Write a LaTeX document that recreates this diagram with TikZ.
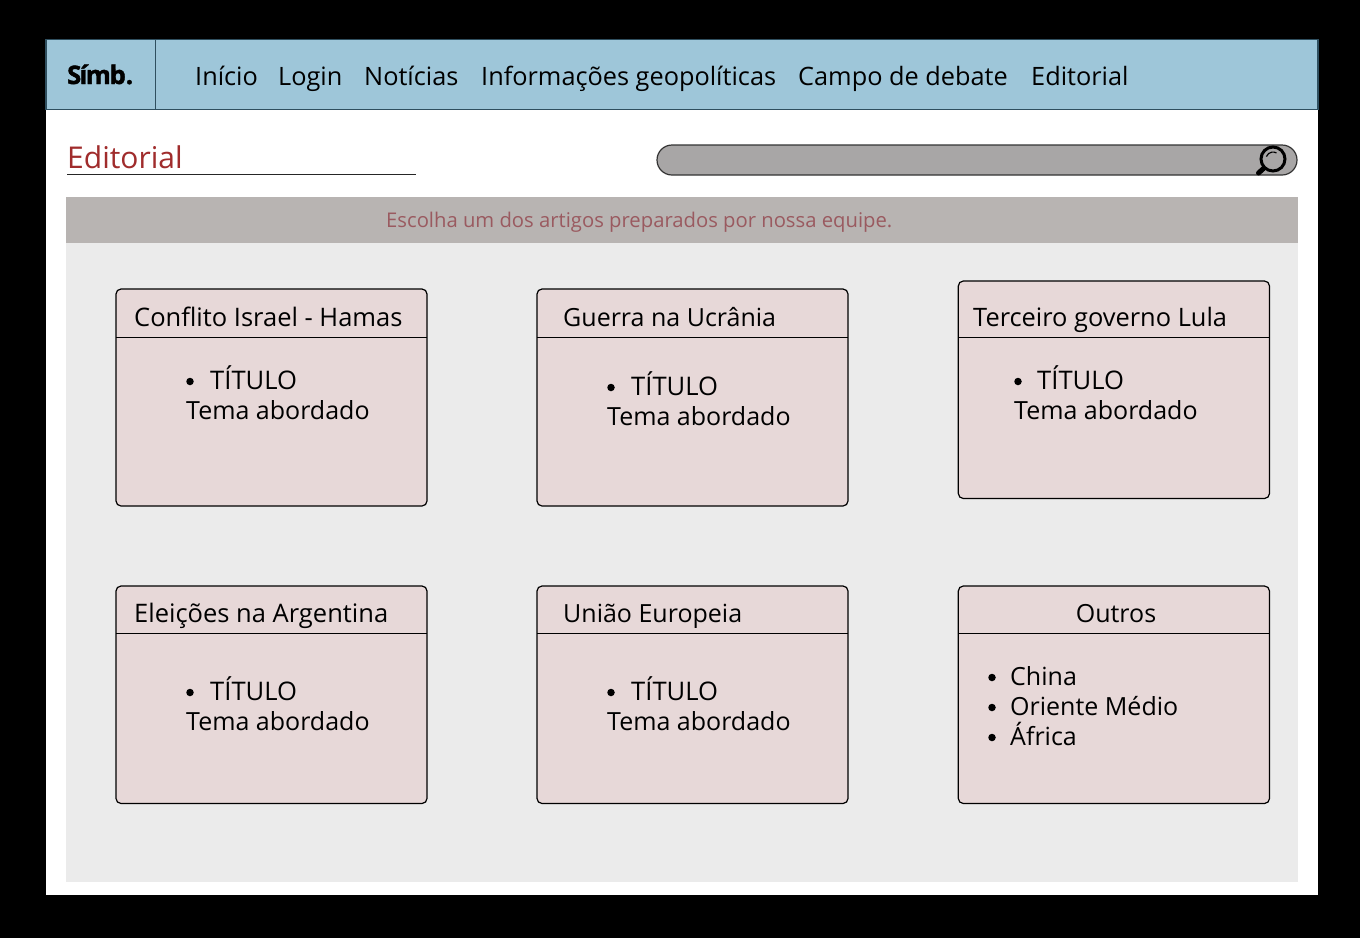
\documentclass[tikz,border=0pt]{standalone}
\usepackage{fontspec}
\setmainfont{Open Sans}
\newfontfamily\logofont[BoldFeatures={FakeBold=1.6}]{Open Sans}
\definecolor{navblue}{HTML}{9EC6D9}
\definecolor{navline}{HTML}{2F4F5F}
\definecolor{cardfill}{HTML}{E7D8D8}
\definecolor{areagray}{HTML}{EBEBEB}
\definecolor{bannergray}{HTML}{B8B4B2}
\definecolor{searchgray}{HTML}{A8A6A6}
\definecolor{titlered}{HTML}{A02C2C}
\definecolor{bannertext}{HTML}{9A5A60}
\tikzset{
	txt/.style={anchor=base west,inner sep=0pt,font=\fontsize{25}{30}\selectfont},
	widetxt/.style={txt,font=\fontsize{25.6}{30}\selectfont},
	navtxt/.style={txt,font=\fontsize{25.3}{30}\selectfont},
	cardbox/.style={draw=black,fill=cardfill,rounded corners=5pt,line width=1.2pt},
	cardline/.style={draw=black,line width=1.2pt},
	bulletdot/.style={circle,fill=black,inner sep=0pt,minimum size=7.5pt}
}
\begin{document}
\begin{tikzpicture}[x=1pt,y=-1pt]
	\useasboundingbox (0,0) rectangle (1360,938);
	\fill[black] (0,0) rectangle (1360,938);
	\fill[white] (46,40) rectangle (1318,895);
	% header
	\draw[fill=navblue,draw=navline,line width=1.3pt] (46,39.7) rectangle (1318,109.7);
	\draw[navline,line width=1.3pt] (155.7,39.7)--(155.7,109.7);
	\node[txt,font=\fontsize{25.5}{30}\logofont\bfseries] (logo) at (67,84) {S\kern-1.6ptí\kern-1.6ptm\kern-1.2ptb.};
	\node[navtxt] (inicio) at (195,85) {Início};
	\node[navtxt] (login) at (278,85) {Login};
	\node[navtxt] (noticias) at (364,85) {Notícias};
	\node[navtxt] (info) at (481,85) {Informações geopolíticas};
	\node[navtxt] (campo) at (798,85) {Campo de debate};
	\node[navtxt] (editorial) at (1031,85) {Editorial};
	% title and search
	\node[txt,text=titlered,font=\fontsize{30}{36}\selectfont] (pagetitle) at (67,168) {Editorial};
	\draw[black!85,line width=1.2pt] (67,174.7)--(416,174.7);
	\draw[fill=searchgray,draw=black!80,line width=1.2pt,rounded corners=15pt] (657,145) rectangle (1297,175);
	\draw[black,line width=3pt,fill=searchgray] (1273,159) circle (12);
	\draw[black,line width=1.2pt] (1266.4,156.6) arc (200:300:7);
	\draw[black,line width=5pt,line cap=round] (1263.5,168.5)--(1258.5,173);
	% content area
	\fill[areagray] (66,197) rectangle (1298,882);
	\fill[bannergray] (66,197) rectangle (1298,243);
	\node[txt,text=bannertext,font=\fontsize{20.25}{24}\selectfont] (banner) at (386,227) {Escolha um dos artigos preparados por nossa equipe.};
	% first row
	\draw[cardbox] (116,289) rectangle (427,506);
	\draw[cardline] (116,337.4)--(427,337.4);
	\node[widetxt,font=\fontsize{25.5}{30}\selectfont] (israel) at (134,326) {Conflito Israel - Hamas};
	\node[bulletdot] (israeldot) at (190,381.5) {};
	\node[widetxt] (israelt) at (210,389.3) {TÍTULO};
	\node[txt] (israeltema) at (186,419.3) {Tema abordado};
	\draw[cardbox] (537,289) rectangle (848,506);
	\draw[cardline] (537,337.4)--(848,337.4);
	\node[txt] (ucrania) at (563,326) {Guerra na Ucrânia};
	\node[bulletdot] (ucraniadot) at (611,387.5) {};
	\node[widetxt] (ucraniat) at (631,395.3) {TÍTULO};
	\node[txt] (ucraniatema) at (607,425.3) {Tema abordado};
	\draw[cardbox] (958.3,281) rectangle (1269.5,498.5);
	\draw[cardline] (958,337.4)--(1269.5,337.4);
	\node[widetxt,font=\fontsize{25.4}{30}\selectfont] (lula) at (973,326) {Terceiro governo Lula};
	\node[bulletdot] (luladot) at (1018,381.5) {};
	\node[widetxt] (lulat) at (1037,389.3) {TÍTULO};
	\node[txt] (lulatema) at (1014,419.3) {Tema abordado};
	% second row
	\draw[cardbox] (116,586) rectangle (427,803.5);
	\draw[cardline] (116,633.7)--(427,633.7);
	\node[widetxt,font=\fontsize{25.5}{30}\selectfont] (argentina) at (134,622) {Eleições na Argentina};
	\node[bulletdot] (argentinadot) at (190,692.5) {};
	\node[widetxt] (argentinat) at (210,700.3) {TÍTULO};
	\node[txt] (argentinatema) at (186,730.3) {Tema abordado};
	\draw[cardbox] (537,586) rectangle (848,803.5);
	\draw[cardline] (537,633.7)--(848,633.7);
	\node[txt] (uniao) at (563,622) {União Europeia};
	\node[bulletdot] (uniaodot) at (611,692.5) {};
	\node[widetxt] (uniaot) at (631,700.3) {TÍTULO};
	\node[txt] (uniaotema) at (607,730.3) {Tema abordado};
	\draw[cardbox] (958.3,586) rectangle (1269.5,803.5);
	\draw[cardline] (958,633.7)--(1269.5,633.7);
	\node[txt,anchor=base] (outros) at (1116,622) {Outros};
	\node[bulletdot] (chinadot) at (992,677.5) {};
	\node[txt] (china) at (1010,685.5) {China};
	\node[bulletdot] (orientedot) at (992,707.5) {};
	\node[txt] (oriente) at (1010,715.5) {Oriente Médio};
	\node[bulletdot] (africadot) at (992,737.5) {};
	\node[txt] (africa) at (1010,745.5) {África};
\end{tikzpicture}
\end{document}
